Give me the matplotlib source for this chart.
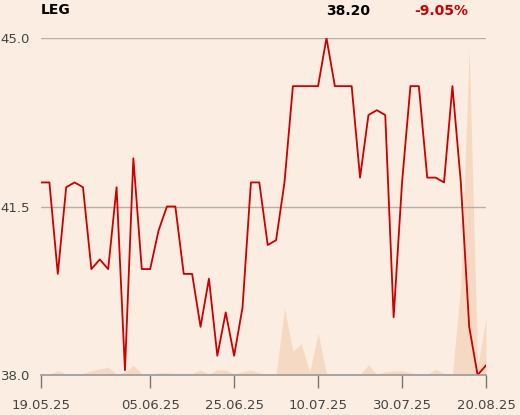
import matplotlib
matplotlib.use("Agg")
import matplotlib.pyplot as plt
import numpy as np

ticker = "LEG"
last_price = "38.20"
change = "-9.05%"

prices = [42.0, 42.0, 40.1, 41.9, 42.0, 41.9, 40.2, 40.4, 40.2, 41.9,
          38.1, 42.5, 40.2, 40.2, 41.0, 41.5, 41.5, 40.1, 40.1, 39.0,
          40.0, 38.4, 39.3, 38.4, 39.4, 42.0, 42.0, 40.7, 40.8, 42.0,
          44.0, 44.0, 44.0, 44.0, 45.0, 44.0, 44.0, 44.0, 42.1, 43.4,
          43.5, 43.4, 39.2, 42.0, 44.0, 44.0, 42.1, 42.1, 42.0, 44.0,
          42.0, 39.0, 38.0, 38.2]

volumes = [15, 15, 135, 30, 30, 45, 130, 180, 240, 30,
           80, 290, 40, 20, 70, 70, 50, 50, 50, 150,
           30, 150, 150, 30, 100, 140, 70, 15, 15, 2000,
           720, 930, 90, 1260, 20, 20, 50, 20, 20, 300,
           20, 100, 120, 130, 70, 20, 20, 170, 50, 30,
           2700, 9810, 240, 1710]

tick_idx = [0, 13, 23, 33, 43, 53]
tick_labels = ["19.05.25", "05.06.25", "25.06.25", "10.07.25", "30.07.25", "20.08.25"]
y_ticks = [38.0, 41.5, 45.0]

bg = "#fbede1"
fig = plt.figure(figsize=(5.2, 4.15), dpi=100, facecolor=bg)
ax = fig.add_axes([41/520, 1-375/415, (486-41)/520, (375-38)/415])
ax2 = ax.twinx()
ax.set_zorder(ax2.get_zorder() + 1)
ax.patch.set_visible(False)
ax2.set_facecolor(bg)

x = np.arange(len(prices))
ax2.fill_between(x, 0, volumes, color="#f6d9c3", linewidth=0)
ax2.set_ylim(0, max(volumes) * 337 / 327)
ax2.set_yticks([])
for s in ax2.spines.values():
    s.set_visible(False)

ax.plot(x, prices, color="#cc0000", linewidth=1.3)
ax.set_xlim(0, len(prices) - 1)
ax.set_ylim(38.0, 45.0)
ax.set_yticks(y_ticks)
ax.set_yticklabels([f"{v:.1f}" for v in y_ticks])
for v in y_ticks[1:]:
    ax.axhline(v, color="#b5b0aa", linewidth=1.0, zorder=0)
ax.set_xticks(tick_idx)
ax.set_xticklabels(tick_labels)
ax.tick_params(axis="y", length=0, pad=8, labelsize=9.5, labelcolor="#444444")
ax.tick_params(axis="x", length=9, width=1, color="#777777", pad=8, labelsize=9.5, labelcolor="#444444")
for k in ["top", "right", "left"]:
    ax.spines[k].set_visible(False)
ax.spines["bottom"].set_color("#999999")
ax.spines["bottom"].set_linewidth(1.2)

fig.text(41/520, 1-10/415, ticker, ha="left", va="center", fontsize=10, fontweight="bold", color="black")
fig.text(370/520, 1-11/415, last_price, ha="right", va="center", fontsize=10, fontweight="bold", color="black")
fig.text(468/520, 1-11/415, change, ha="right", va="center", fontsize=10, fontweight="bold", color="#cc0000")

fig.savefig("out.png", dpi=100, facecolor=bg)
